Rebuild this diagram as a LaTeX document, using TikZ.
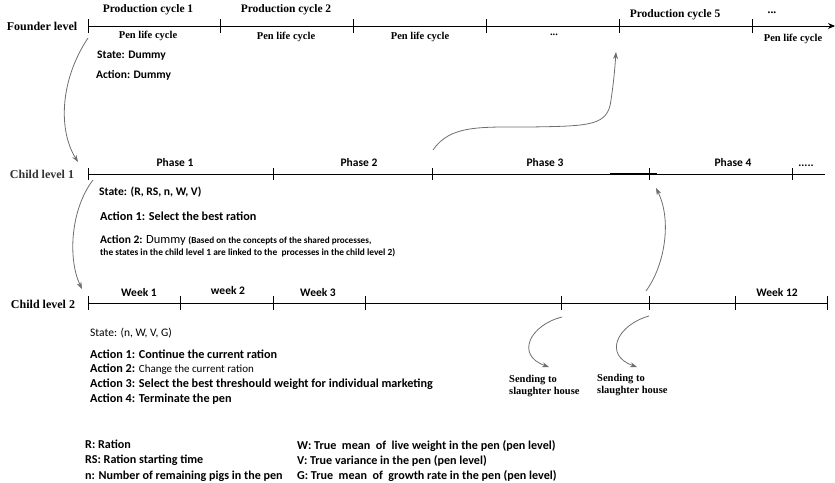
\documentclass[tikz,border=0pt]{standalone}
\usepackage{fontspec}
\setmainfont{Liberation Serif}
\newfontfamily\calibri{Carlito}
\usetikzlibrary{arrows.meta}
\usepackage{xcolor}
\definecolor{linkgray}{HTML}{6E6E6E}
\definecolor{levelgray}{HTML}{333333}

\begin{document}
\begin{tikzpicture}[x=1pt, y=-1pt, inner sep=0pt,
    axis/.style={line width=0.9pt},
    levelname/.style={font=\bfseries\fontsize{12}{14}\selectfont},
    cycle/.style={font=\bfseries\fontsize{11.5}{13}\selectfont},
    pen/.style={font=\bfseries\fontsize{10.5}{12}\selectfont},
    sanslabel/.style={font=\calibri\bfseries\fontsize{11.5}{13}\selectfont},
    info/.style={font=\calibri\bfseries\fontsize{11.5}{13}\selectfont, anchor=west},
    action/.style={font=\calibri\bfseries\fontsize{12.2}{14}\selectfont, anchor=west},
    note/.style={font=\calibri\bfseries\fontsize{9.4}{11}\selectfont, anchor=west},
    legend/.style={font=\calibri\bfseries\fontsize{12.1}{14}\selectfont, anchor=west},
    slaughter/.style={font=\bfseries\fontsize{10.5}{12}\selectfont, align=left, anchor=west},
    link/.style={linkgray, line width=0.8pt, -{Stealth[length=7pt,width=5pt]}}]
  \useasboundingbox (0,0) rectangle (835,482);

  % founder level
  \foreach \x [count=\i] in {88,220,353,486,619,752}
    \coordinate (f\i) at (\x,26);
  \coordinate (fend) at (835,26);
  \draw[axis,-{Stealth[length=7pt,width=6pt]}] (f1) -- (fend);
  \foreach \i in {1,...,6}
    \draw[axis] ([yshift=-7pt]f\i) -- ([yshift=7pt]f\i);
  \node[levelname] (founder) at (42,26) {Founder level};
  \node[cycle] (pc1) at (148,10) {Production cycle 1};
  \node[cycle] (pc2) at (286,10) {Production cycle 2};
  \node[cycle] (pc5) at (675,15) {Production cycle 5};
  \node[cycle] (pcdots) at (772,13) {...};
  \node[pen] (pen1) at (148,36) {Pen life cycle};
  \node[pen] (pen2) at (286,37) {Pen life cycle};
  \node[pen] (pen3) at (420,37) {Pen life cycle};
  \node[pen] (pendots) at (554,35) {...};
  \node[pen] (pen5) at (793,39) {Pen life cycle};
  \node[info] (fstate) at (97,56) {State: Dummy};
  \node[info] (faction) at (96,75) {Action: Dummy};

  % child level 1
  \foreach \x [count=\i] in {88,273,432,649,792}
    \coordinate (c\i) at (\x,174);
  \coordinate (cend) at (825,174);
  \draw[axis] (c1) -- (cend);
  \draw[line width=1.6pt] ([xshift=-39pt]c4) -- ([xshift=8pt]c4);
  \foreach \i in {1,...,5}
    \draw[axis] ([yshift=-6pt]c\i) -- ([yshift=6pt]c\i);
  \node[levelname, text=levelgray] (child1) at (42,174) {Child level 1};
  \node[sanslabel] (ph1) at (175,163) {Phase 1};
  \node[sanslabel] (ph2) at (359,163) {Phase 2};
  \node[sanslabel] (ph3) at (545,163) {Phase 3};
  \node[sanslabel] (ph4) at (733,163) {Phase 4};
  \node[sanslabel] (phdots) at (806,166) {.....};
  \node[info, font=\calibri\bfseries\fontsize{11.6}{13}\selectfont] (cstate) at (99,192) {State: (R, RS, n, W, V)};
  \node[action] (caction1) at (100,216) {Action 1: Select the best ration};
  \node[info] (caction2) at (100,240) {Action 2: {\mdseries\fontsize{12.5}{14}\selectfont Dummy}
    {\fontsize{9.2}{10}\selectfont (Based on the concepts of the shared processes,}};
  \node[note] (cnote) at (100,253) {the states in the child level 1 are linked to the \ processes in the child level 2)};

  % child level 2
  \foreach \x [count=\i] in {88,180,273,365,561,649,735,827}
    \coordinate (w\i) at (\x,303);
  \draw[axis] (w1) -- (w8);
  \foreach \i in {1,...,8}
    \draw[axis] ([yshift=-7pt]w\i) -- ([yshift=7pt]w\i);
  \node[levelname] (child2) at (43,304) {Child level 2};
  \node[sanslabel] (wk1) at (139,293) {Week 1};
  \node[sanslabel] (wk2) at (228,291) {week 2};
  \node[sanslabel] (wk3) at (318,293) {Week 3};
  \node[sanslabel] (wk12) at (777,293) {Week 12};
  \node[info, font=\calibri\fontsize{11.5}{13}\selectfont] (wstate) at (90,333) {State: (n, W, V, G)};
  \node[action] (waction1) at (90,354) {Action 1: Continue the current ration};
  \node[action] (waction2) at (90,369) {Action 2: {\mdseries\fontsize{11}{12}\selectfont Change the current ration}};
  \node[action] (waction3) at (90,384) {Action 3: Select the best threshould weight for individual marketing};
  \node[action] (waction4) at (90,399) {Action 4: Terminate the pen};
  \node[slaughter] (send1) at (509,386) {Sending to\\slaughter house};
  \node[slaughter] (send2) at (597,385) {Sending to\\slaughter house};

  % legend
  \node[legend] (lr) at (85,444) {R: Ration};
  \node[legend] (lrs) at (85,460) {RS: Ration starting time};
  \node[legend] (ln) at (85,476) {n: Number of remaining pigs in the pen};
  \node[legend] (lw) at (297,446) {W: True \ mean \ of \ live weight in the pen (pen level)};
  \node[legend] (lv) at (297,461) {V: True variance in the pen (pen level)};
  \node[legend] (lg) at (297,476) {G: True \ mean \ of \ growth rate in the pen (pen level)};

  % links between levels
  \coordinate (fdown) at (88,38);
  \coordinate (c1in) at (78,162);
  \coordinate (cdown) at (93,180);
  \coordinate (w1in) at (82,289);
  \coordinate (ph2up) at (433,150);
  \coordinate (pc5in) at (616,52);
  \coordinate (wup) at (646,291);
  \coordinate (c4in) at (656,188);
  \coordinate (s1out) at (562,317);
  \coordinate (s1in) at (549,367);
  \coordinate (s2out) at (649,316);
  \coordinate (s2in) at (637,367);
  \draw[link] (fdown) .. controls (60,80) and (58,130) .. (c1in);
  \draw[link] (cdown) .. controls (70,210) and (68,260) .. (w1in);
  \draw[link] (ph2up) .. controls (450,125) and (480,127) .. (530,127)
    .. controls (590,126) and (608,126) .. (611,100)
    .. controls (614,80) and (615,66) .. (pc5in);
  \draw[link] (wup) .. controls (665,265) and (672,220) .. (c4in);
  \draw[link] (s1out) .. controls (530,325) and (515,355) .. (s1in);
  \draw[link] (s2out) .. controls (617,325) and (603,355) .. (s2in);
\end{tikzpicture}
\end{document}
